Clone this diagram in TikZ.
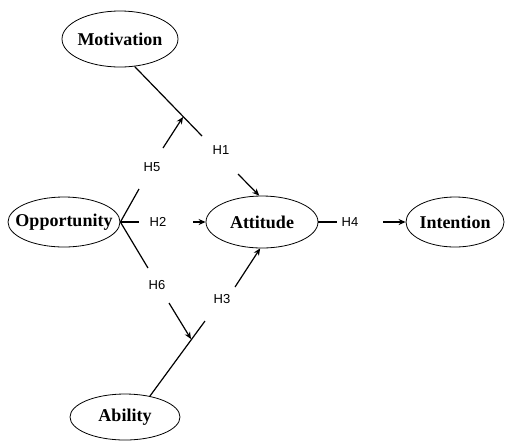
\documentclass[tikz,border=0pt]{standalone}
\usepackage{fontspec}
\setmainfont{Liberation Serif}
\setsansfont{Liberation Sans}
\usetikzlibrary{shapes.geometric,arrows.meta}
\tikzset{
  oval/.style={ellipse, draw, line width=0.8pt, inner sep=0pt,
    font=\bfseries\fontsize{18}{20}\selectfont},
  hlab/.style={inner sep=0pt, font=\sffamily\fontsize{13}{15}\selectfont},
  path/.style={line width=1.2pt},
  arr/.style={line width=1.2pt, -{Stealth[length=7pt,width=6pt]}}
}
\newcommand{\zw}[1]{\makebox[0pt]{#1}}
\begin{document}
\begin{tikzpicture}[x=1pt,y=-1pt]
\useasboundingbox (0,0) rectangle (505,440);
% ellipses
\node[oval, minimum width=116pt, minimum height=56pt] (mot) at (120,39) {\zw{Motivation}};
\node[oval, minimum width=112pt, minimum height=50pt] (opp) at (64,222) {\zw{Opportunity}};
\node[oval, minimum width=112pt, minimum height=52pt] (att) at (262,222) {\zw{Attitude}};
\node[oval, minimum width=98pt, minimum height=50pt] (int) at (455,222) {\zw{Intention}};
\node[oval, minimum width=110pt, minimum height=46pt] (abi) at (125,417) {\zw{Ability}};
% labels
\node[hlab] (h1) at (221,150) {H1};
\node[hlab] (h5) at (152,167) {H5};
\node[hlab] (h2) at (158,222) {H2};
\node[hlab] (h4) at (350,222) {H4};
\node[hlab] (h6) at (157,285) {H6};
\node[hlab] (h3) at (222,299) {H3};
% free ends and junctions
\coordinate (m1) at (202,136);
\coordinate (j5) at (183,117);
\coordinate (h5s) at (163,148);
\coordinate (o5) at (139,189);
\coordinate (o2) at (139,222);
\coordinate (h2s) at (193,222);
\coordinate (o6) at (148,268);
\coordinate (h6s) at (169,303);
\coordinate (j6) at (191,339);
\coordinate (a1) at (205,321);
\coordinate (h3s) at (235,287);
\coordinate (h1s) at (238,174);
\coordinate (a4) at (337,222);
\coordinate (h4s) at (383,222);
% connectors
\draw[path] (mot.-62) -- (m1);
\draw[path] (opp.east) -- (o5);
\draw[arr] (h5s) -- (j5);
\draw[path] (opp.east) -- (o2);
\draw[arr] (h2s) -- (att.west);
\draw[path] (opp.east) -- (o6);
\draw[arr] (h6s) -- (j6);
\draw[path] (abi.40) -- (a1);
\draw[arr] (h3s) -- (att.-94);
\draw[arr] (h1s) -- (att.96);
\draw[path] (att.east) -- (a4);
\draw[arr] (h4s) -- (int.west);
\end{tikzpicture}
\end{document}
